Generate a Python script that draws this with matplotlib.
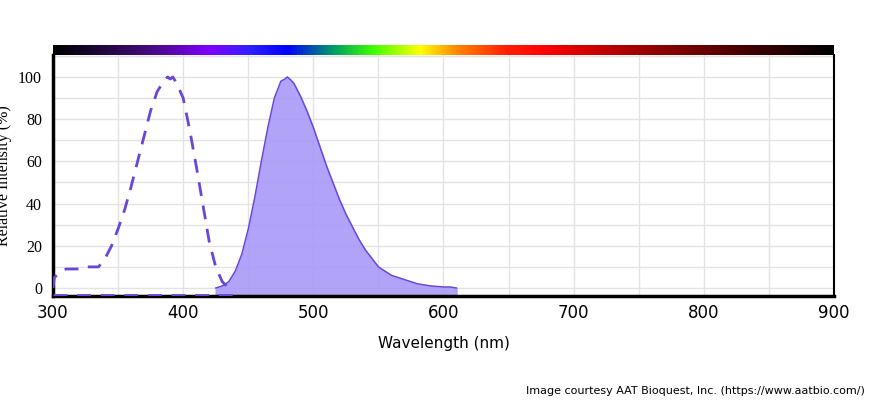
import numpy as np
import matplotlib
matplotlib.use("Agg")
import matplotlib.pyplot as plt
from matplotlib.colors import LinearSegmentedColormap

ex_x = [300, 301, 305, 310, 320, 325, 335, 340, 345, 350, 355, 360, 365, 370, 375, 380, 385, 388, 390, 392, 395, 400, 405, 410, 415, 420, 425, 430, 435]
ex_y = [0, 5, 7, 9, 9, 10, 10, 14, 20, 28, 37, 48, 60, 72, 84, 93, 98, 100, 99, 100, 97, 90, 75, 58, 40, 22, 10, 3, 0]
em_x = [425, 430, 435, 440, 445, 450, 455, 460, 465, 470, 475, 478, 480, 482, 485, 490, 495, 500, 505, 510, 515, 520, 525, 530, 535, 540, 545, 550, 555, 560, 565, 570, 575, 580, 590, 600, 605, 610]
em_y = [0, 1, 3, 8, 16, 28, 43, 60, 76, 90, 98, 99, 100, 99, 97, 91, 84, 76, 67, 58, 50, 42, 35, 29, 23, 18, 14, 10, 8, 6, 5, 4, 3, 2, 1, 0.5, 0.5, 0]
base_x = [300, 440]
base_y = [-3.2, -3.2]

fig = plt.figure(figsize=(8.7, 4), dpi=100)
ax = fig.add_axes([53/870, 1-296/400, (834-53)/870, (296-55)/400])
cax = fig.add_axes([53/870, 1-55/400, (834-53)/870, 10/400])

col = '#6a45d8'
ax.fill_between(em_x, em_y, -3.8, color='#a899f8', alpha=0.9, zorder=2)
ax.plot(em_x, em_y, color=col, lw=1, zorder=3)
ax.plot(ex_x, ex_y, color=col, lw=2, ls=(0, (5, 3.5)), zorder=3)
ax.plot(base_x, base_y, color=col, lw=2, ls=(0, (5, 3.5)), zorder=3)

ax.set_xlim(300, 900)
ax.set_ylim(-3.8, 110.4)
ax.set_xticks(range(300, 901, 100))
ax.set_xticks(range(350, 900, 100), minor=True)
ax.set_yticks(range(0, 101, 20))
ax.set_yticks(range(10, 111, 20), minor=True)
ax.grid(True, which='both', color='#e3e3e3', lw=1, zorder=0)
ax.tick_params(which='both', length=0)
ax.tick_params(axis='y', labelsize=11.5, pad=8)
ax.tick_params(axis='x', labelsize=12, pad=6)
for lab in ax.get_yticklabels():
    lab.set_fontfamily('Liberation Serif')
ax.spines['top'].set_visible(False)
ax.spines['bottom'].set_linewidth(2.5)
ax.spines['left'].set_linewidth(2.5)
ax.spines['right'].set_linewidth(1.5)
ax.set_xlabel('Wavelength (nm)', fontsize=11, labelpad=10)
ax.set_ylabel('Relative Intensity (%)', fontsize=11.5, family='Liberation Serif', labelpad=6)
ax.yaxis.set_label_coords(-0.052, 0.5)

stops = [(0, '#000000'), (0.08, '#2a0a50'), (0.13, '#4b0a8a'), (0.2, '#8000ff'), (0.25, '#3020ff'),
         (0.3, '#0000ff'), (0.36, '#00a060'), (0.41, '#40ff00'), (0.47, '#ffff00'), (0.52, '#ff8000'),
         (0.58, '#ff2000'), (0.63, '#ff0000'), (0.75, '#a00000'), (0.87, '#500000'), (1, '#000000')]
cmap = LinearSegmentedColormap.from_list('spec', stops)
cax.imshow(np.linspace(0, 1, 512)[None, :], aspect='auto', cmap=cmap, extent=[300, 900, 0, 1])
cax.axis('off')

fig.text(865/870, 1-391/400, 'Image courtesy AAT Bioquest, Inc. (https://www.aatbio.com/)', ha='right', va='center', fontsize=8)
fig.savefig('out.png', dpi=100)
